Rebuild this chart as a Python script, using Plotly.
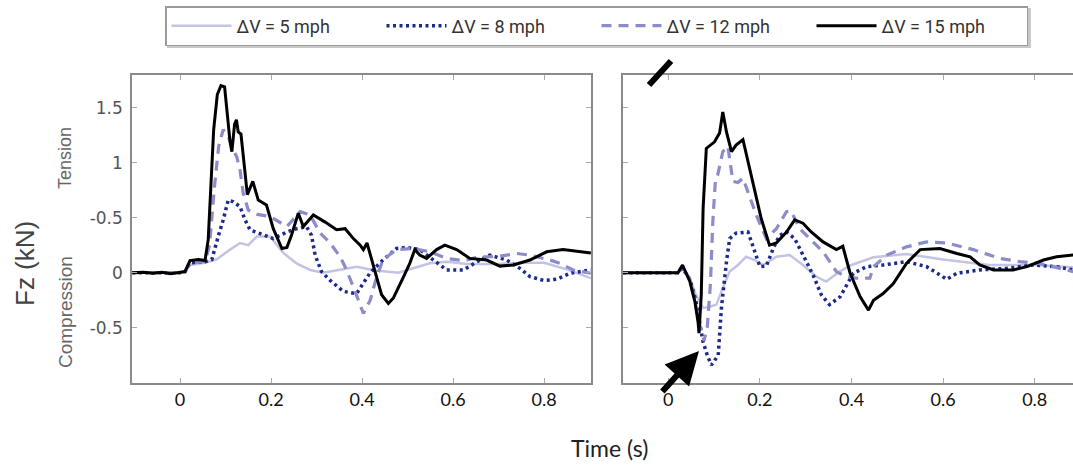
import plotly.graph_objects as go

W, H = 1073, 465

# ---------------- data ----------------
series_names = ["ΔV = 5 mph", "ΔV = 8 mph", "ΔV = 12 mph", "ΔV = 15 mph"]

# Left panel
L5_t = [-0.105, 0.0, 0.011, 0.022, 0.055, 0.08, 0.11, 0.132, 0.15, 0.169, 0.198, 0.227, 0.256, 0.286, 0.315, 0.344,
        0.388, 0.43, 0.48, 0.52, 0.549, 0.586, 0.63, 0.7, 0.75, 0.8, 0.85, 0.903]
L5_y = [0, 0, 0.01, 0.07, 0.09, 0.12, 0.21, 0.27, 0.25, 0.33, 0.33, 0.18, 0.085, 0.025, 0.0, 0.02,
        0.055, 0.02, 0.0, 0.05, 0.085, 0.10, 0.08, 0.08, 0.09, 0.09, 0.03, -0.05]

L8_t = [-0.105, 0.0, 0.011, 0.022, 0.055, 0.07, 0.084, 0.095, 0.106, 0.117, 0.132, 0.143, 0.154, 0.183, 0.205,
        0.235, 0.256, 0.278, 0.289, 0.297, 0.311, 0.33, 0.359, 0.388, 0.418, 0.446, 0.476, 0.498, 0.527, 0.557,
        0.586, 0.623, 0.659, 0.681, 0.718, 0.747, 0.769, 0.799, 0.828, 0.857, 0.903]
L8_y = [0, 0, 0.01, 0.09, 0.10, 0.12, 0.33, 0.48, 0.66, 0.645, 0.60, 0.48, 0.39, 0.34, 0.31,
        0.37, 0.40, 0.42, 0.34, 0.16, 0.01, -0.07, -0.17, -0.19, 0.0, 0.115, 0.22, 0.23, 0.21, 0.115,
        0.025, 0.025, 0.115, 0.16, 0.115, 0.04, -0.035, -0.07, -0.06, -0.005, 0.025]

L12_t = [-0.105, 0.0, 0.011, 0.022, 0.055, 0.065, 0.075, 0.085, 0.095, 0.105, 0.117, 0.125, 0.132, 0.139, 0.15,
         0.17, 0.198, 0.235, 0.264, 0.286, 0.308, 0.33, 0.352, 0.366, 0.381, 0.403, 0.418, 0.432, 0.446, 0.475,
         0.513, 0.549, 0.586, 0.623, 0.659, 0.696, 0.74, 0.769, 0.813, 0.835, 0.864, 0.903]
L12_y = [0, 0, 0.01, 0.09, 0.10, 0.25, 0.75, 1.15, 1.30, 1.25, 1.12, 1.05, 0.93, 0.72, 0.57,
         0.53, 0.51, 0.42, 0.555, 0.525, 0.36, 0.27, 0.145, 0.025, -0.13, -0.37, -0.25, -0.04, 0.115, 0.21,
         0.22, 0.19, 0.13, 0.11, 0.145, 0.145, 0.175, 0.16, 0.115, 0.085, 0.025, -0.005]

L15_t = [-0.105, -0.08, -0.06, -0.04, -0.02, 0.0, 0.011, 0.022, 0.04, 0.055, 0.062, 0.068, 0.074, 0.082, 0.09,
         0.098, 0.104, 0.11, 0.114, 0.12, 0.124, 0.128, 0.134, 0.143, 0.148, 0.160, 0.172, 0.19, 0.205, 0.224,
         0.235, 0.245, 0.26, 0.271, 0.293, 0.319, 0.344, 0.363, 0.381, 0.396, 0.403, 0.411, 0.425, 0.443, 0.458,
         0.469, 0.491, 0.505, 0.516, 0.527, 0.542, 0.564, 0.582, 0.608, 0.637, 0.674, 0.703, 0.733, 0.769, 0.806,
         0.842, 0.903]
L15_y = [0, 0.005, -0.005, 0.005, -0.01, 0, 0.01, 0.11, 0.12, 0.11, 0.3, 0.8, 1.3, 1.62, 1.70,
         1.69, 1.45, 1.19, 1.10, 1.35, 1.39, 1.28, 1.26, 0.89, 0.71, 0.83, 0.66, 0.615, 0.40, 0.22,
         0.23, 0.34, 0.54, 0.42, 0.525, 0.46, 0.39, 0.40, 0.31, 0.25, 0.21, 0.27, 0.055, -0.20, -0.28,
         -0.23, -0.04, 0.085, 0.21, 0.16, 0.13, 0.21, 0.25, 0.21, 0.13, 0.115, 0.06, 0.07, 0.115, 0.19,
         0.21, 0.18]

# Right panel
R5_t = [-0.099, 0.0, 0.021, 0.031, 0.047, 0.06, 0.076, 0.09, 0.105, 0.119, 0.134, 0.152, 0.17, 0.189, 0.207,
        0.236, 0.265, 0.294, 0.323, 0.345, 0.374, 0.40, 0.448, 0.52, 0.6, 0.7, 0.8, 0.884]
R5_y = [0, 0, 0, 0.04, -0.05, -0.2, -0.32, -0.31, -0.29, -0.14, 0.01, 0.07, 0.145, 0.115, 0.07,
        0.145, 0.16, 0.07, -0.035, -0.08, 0.01, 0.07, 0.14, 0.17, 0.12, 0.07, 0.07, 0.05]

R8_t = [-0.099, 0.0, 0.021, 0.031, 0.047, 0.06, 0.068, 0.076, 0.085, 0.094, 0.109, 0.116, 0.127, 0.134, 0.148,
        0.174, 0.189, 0.2, 0.214, 0.229, 0.243, 0.258, 0.276, 0.294, 0.316, 0.334, 0.352, 0.375, 0.404, 0.433,
        0.469, 0.52, 0.564, 0.593, 0.608, 0.63, 0.68, 0.739, 0.797, 0.848, 0.884]
R8_y = [0, 0, 0, 0.04, -0.06, -0.25, -0.45, -0.63, -0.75, -0.84, -0.75, -0.32, 0.10, 0.31, 0.36,
        0.37, 0.19, 0.055, 0.06, 0.22, 0.34, 0.37, 0.31, 0.16, -0.02, -0.20, -0.29, -0.22, -0.005, 0.055,
        0.07, 0.10, 0.055, -0.02, -0.06, -0.005, 0.025, 0.04, 0.07, 0.055, 0.025]

R12_t = [-0.099, 0.0, 0.021, 0.031, 0.047, 0.06, 0.07, 0.078, 0.085, 0.092, 0.097, 0.103, 0.108, 0.119, 0.13,
         0.141, 0.152, 0.163, 0.174, 0.192, 0.214, 0.236, 0.258, 0.268, 0.287, 0.316, 0.338, 0.367, 0.381, 0.41,
         0.44, 0.448, 0.477, 0.52, 0.564, 0.608, 0.666, 0.724, 0.768, 0.81, 0.855, 0.884]
R12_y = [0, 0, 0, 0.05, -0.06, -0.3, -0.5, -0.62, -0.5, -0.1, 0.45, 0.85, 0.89, 1.10, 1.15,
         0.83, 0.82, 0.86, 0.74, 0.525, 0.31, 0.40, 0.555, 0.56, 0.40, 0.28, 0.19, 0.01, -0.02, -0.05,
         -0.05, 0.055, 0.16, 0.235, 0.28, 0.27, 0.21, 0.13, 0.10, 0.085, 0.04, 0.01]

R15_t = [-0.099, -0.05, 0.0, 0.021, 0.031, 0.047, 0.058, 0.065, 0.067, 0.072, 0.076, 0.083, 0.101, 0.112, 0.119,
         0.127, 0.138, 0.148, 0.163, 0.174, 0.189, 0.203, 0.221, 0.236, 0.258, 0.276, 0.294, 0.312, 0.338, 0.367,
         0.381, 0.397, 0.419, 0.437, 0.448, 0.469, 0.491, 0.52, 0.55, 0.593, 0.63, 0.659, 0.68, 0.71, 0.753,
         0.783, 0.819, 0.848, 0.884]
R15_y = [0, 0, 0, 0, 0.07, -0.08, -0.26, -0.45, -0.55, -0.2, 0.585, 1.13, 1.19, 1.27, 1.46,
         1.28, 1.10, 1.16, 1.21, 1.01, 0.74, 0.49, 0.25, 0.27, 0.37, 0.48, 0.45, 0.37, 0.28, 0.21,
         0.24, -0.005, -0.22, -0.34, -0.25, -0.19, -0.10, 0.085, 0.21, 0.22, 0.175, 0.145, 0.07, 0.025, 0.025,
         0.055, 0.115, 0.145, 0.16]

y_tickvals = [-0.5, 0, 0.5, 1, 1.5]
y_ticktext = ["-0.5", "0", "-0.5", "1", "1.5"]
x_tickvals = [0, 0.2, 0.4, 0.6, 0.8]
x_ticktext_left = ["0", "0.2", "0.4", "0.6", "0.8"]
x_ticktext_right = ["0", "0.2", "0.4", "0.6", "0.8"]

# ---------------- styles ----------------
styles = [
    dict(color="#c3c3e4", width=2.5, dash="solid"),
    dict(color="#1c2a8c", width=3.5, dash="3px,3.5px"),
    dict(color="#8c8ccb", width=3.2, dash="10px,7px"),
    dict(color="#000000", width=3.0, dash="solid"),
]

left = [(L5_t, L5_y), (L8_t, L8_y), (L12_t, L12_y), (L15_t, L15_y)]
right = [(R5_t, R5_y), (R8_t, R8_y), (R12_t, R12_y), (R15_t, R15_y)]

fig = go.Figure()
for i, (t, y) in enumerate(left):
    fig.add_trace(go.Scatter(x=t, y=y, mode="lines", name=series_names[i], line=styles[i],
                             xaxis="x", yaxis="y", showlegend=True, legendrank=i + 1))
for i, (t, y) in enumerate(right):
    fig.add_trace(go.Scatter(x=t, y=y, mode="lines", name=series_names[i], line=styles[i],
                             xaxis="x2", yaxis="y2", showlegend=False))

def px(x):
    return x / W

def py(y):
    return 1 - y / H

ydom = [py(383), py(75)]
axis_gray = "#8a8a8a"

fig.update_layout(
    width=W, height=H, template="none",
    margin=dict(l=0, r=0, t=0, b=0, pad=0),
    paper_bgcolor="white", plot_bgcolor="white",
    showlegend=True,
    legend=dict(
        orientation="h", x=px(165), y=py(6), xanchor="left", yanchor="top",
        bgcolor="white", bordercolor="#9a9a9a", borderwidth=1.5,
        font=dict(family="Roboto, Arial, sans-serif", size=18, color="#333"),
        itemwidth=60, entrywidth=140, traceorder="normal", tracegroupgap=0,
        itemclick=False,
    ),
    xaxis=dict(
        domain=[px(132), px(591)], range=[(132 - 180) / 455, (591 - 180) / 455],
        anchor="y", showgrid=False, zeroline=False, automargin=False,
        showline=True, mirror="ticks", linecolor=axis_gray, linewidth=1.5,
        ticks="inside", ticklen=5, tickcolor="#aaaaaa", tickwidth=1,
        tickvals=x_tickvals, ticktext=x_ticktext_left, ticklabelstandoff=0,
        tickfont=dict(family="Lato, Open Sans, sans-serif", size=18, color="#111"),
    ),
    yaxis=dict(
        domain=ydom, range=[(272.7 - 383) / 110, (272.7 - 75) / 110],
        anchor="x", showgrid=False, zeroline=False, automargin=False,
        showline=True, mirror="ticks", linecolor=axis_gray, linewidth=1.5,
        ticks="inside", ticklen=5, tickcolor="#aaaaaa", tickwidth=1,
        tickvals=y_tickvals, ticktext=y_ticktext, ticklabelstandoff=4,
        tickfont=dict(family="DejaVu Sans, Arial, sans-serif", size=17, color="#555"),
    ),
    xaxis2=dict(
        domain=[px(623), 1.0], range=[(623 - 668.3) / 458, (1073 - 668.3) / 458],
        anchor="y2", showgrid=False, zeroline=False, automargin=False,
        showline=True, mirror="ticks", linecolor=axis_gray, linewidth=1.5,
        ticks="inside", ticklen=5, tickcolor="#aaaaaa", tickwidth=1,
        tickvals=x_tickvals, ticktext=x_ticktext_right, ticklabelstandoff=0,
        tickfont=dict(family="Lato, Open Sans, sans-serif", size=18, color="#111"),
    ),
    yaxis2=dict(
        domain=ydom, range=[(272.7 - 383) / 110, (272.7 - 75) / 110],
        anchor="x2", showgrid=False, zeroline=False, automargin=False,
        showline=True, mirror=False, linecolor=axis_gray, linewidth=1.5,
        ticks="inside", ticklen=5, tickcolor="#aaaaaa", tickwidth=1,
        tickvals=y_tickvals, showticklabels=False,
    ),
)

# Legend shadow
fig.add_shape(type="rect", xref="paper", yref="paper",
              x0=px(167), x1=px(1031), y0=py(48), y1=py(8),
              fillcolor="#c8c8c8", line=dict(width=0), layer="below")

# Axis titles and side labels
ann_common = dict(xref="paper", yref="paper", showarrow=False, xanchor="center", yanchor="middle")
fig.add_annotation(text="Fz (kN)", x=px(25), y=py(264), textangle=-90,
                   font=dict(family="Liberation Sans, Arial, sans-serif", size=26, color="#444"), **ann_common)
fig.add_annotation(text="Tension", x=px(65), y=py(158), textangle=-90,
                   font=dict(family="Liberation Sans, Arial, sans-serif", size=18, color="#666"), **ann_common)
fig.add_annotation(text="Compression", x=px(65), y=py(312), textangle=-90,
                   font=dict(family="Liberation Sans, Arial, sans-serif", size=19, color="#666"), **ann_common)
fig.add_annotation(text="Time (s)", x=px(609), y=py(448),
                   font=dict(family="Lato, Open Sans, sans-serif", size=23, color="#222"), **ann_common)

# Arrows on right panel
fig.add_annotation(xref="paper", yref="paper", x=px(699), y=py(351),
                   ax=-38, ay=42, axref="pixel", ayref="pixel",
                   showarrow=True, arrowhead=2, arrowsize=1.1, arrowwidth=6, arrowcolor="#000", text="")
fig.add_shape(type="line", xref="paper", yref="paper",
              x0=px(649), y0=py(85), x1=px(671), y1=py(61),
              line=dict(color="#000", width=6))

fig.write_html("out.html")
